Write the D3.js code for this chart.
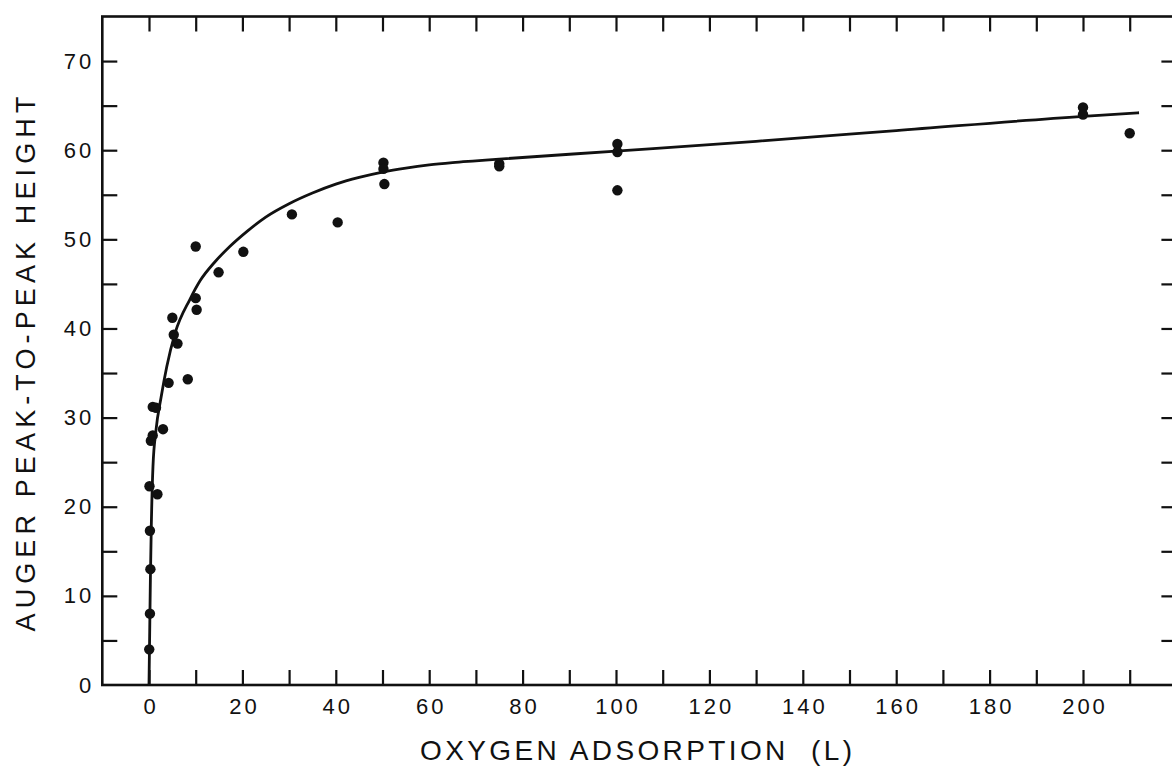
<!DOCTYPE html>
<html><head><meta charset="utf-8">
<script src="https://cdn.jsdelivr.net/npm/d3@7/dist/d3.min.js"></script>
<style>body{margin:0;background:#fff;overflow:hidden}svg{display:block}</style>
</head><body>
<svg id="c" width="1172" height="767"></svg>
<script>
// Measured points: oxygen exposure (L) and Auger peak-to-peak height
const exposure = [0.05, 0.2, 0.3, 0.2, 0.1, 1.8, 0.4, 0.8, 3.0, 0.8, 1.5, 4.2, 8.3, 5.0, 5.3, 6.1,
  10.0, 10.0, 10.2, 14.9, 20.2, 30.6, 40.4, 50.2, 50.2, 50.4, 75.0, 75.0, 100.3, 100.3, 100.3, 200, 200, 210];
const peakHeight = [4.0, 8.0, 13.0, 17.3, 22.3, 21.4, 27.4, 28.0, 28.7, 31.2, 31.1, 33.9, 34.3, 41.2, 39.3, 38.3,
  49.2, 43.4, 42.1, 46.3, 48.6, 52.8, 51.9, 58.6, 57.9, 56.2, 58.5, 58.2, 60.7, 59.8, 55.5, 64.8, 64.0, 61.9];

// Fitted curve
const fitX = [0, 0.15, 0.3, 0.5, 0.85, 1.5, 2.6, 3.8, 5.6, 8.8, 11, 14, 17.3, 21, 25, 30, 35, 40, 45, 50, 55, 60, 65, 70, 75, 100, 130, 160, 200, 212];
const fitY = [0, 6, 12, 18, 24.5, 28.6, 32.3, 35.7, 39.5, 43.3, 45.4, 47.4, 49.2, 50.9, 52.5, 54.0, 55.2, 56.2, 56.95, 57.55, 58.0, 58.35, 58.6, 58.8, 59.0, 59.9, 61.0, 62.2, 63.8, 64.2];

// Axes
const xDomain = [-10, 220];
const yDomain = [0, 75];
const xTickMarks = [0, 10, 20, 30, 40, 50, 60, 70, 80, 90, 100, 110, 120, 130, 140, 150, 160, 170, 180, 190, 200, 210];
const xTickLabels = [0, 20, 40, 60, 80, 100, 120, 140, 160, 180, 200];
const yTickMarks = [5, 10, 15, 20, 25, 30, 35, 40, 45, 50, 55, 60, 65, 70];
const yTickLabels = [0, 10, 20, 30, 40, 50, 60, 70];
const xTitle = "OXYGEN ADSORPTION  (L)";
const yTitle = "AUGER PEAK-TO-PEAK HEIGHT";

const FONT = "'Liberation Sans', Arial, sans-serif";
const svg = d3.select("#c");
const x = d3.scaleLinear().domain(xDomain).range([102.3, 1176.4]);
const y = d3.scaleLinear().domain(yDomain).range([685, 16.5]);

const ink = "#111";
const TL = 15;

// frame
svg.append("rect")
  .attr("x", x(xDomain[0])).attr("y", y(yDomain[1]))
  .attr("width", x(xDomain[1]) - x(xDomain[0]))
  .attr("height", y(yDomain[0]) - y(yDomain[1]))
  .attr("fill", "none").attr("stroke", ink).attr("stroke-width", 2.6);

function styleTicks(g) {
  g.select(".domain").remove();
  g.selectAll(".tick line").attr("stroke", ink).attr("stroke-width", 2.2);
}

// tick marks
svg.append("g").attr("transform", `translate(0,${y(0)})`)
  .call(d3.axisBottom(x).tickValues(xTickMarks).tickSizeInner(-TL).tickSizeOuter(0).tickFormat(() => ""))
  .call(styleTicks);
svg.append("g").attr("transform", `translate(0,${y(yDomain[1])})`)
  .call(d3.axisTop(x).tickValues(xTickMarks).tickSizeInner(-TL).tickSizeOuter(0).tickFormat(() => ""))
  .call(styleTicks);
svg.append("g").attr("transform", `translate(${x(xDomain[0])},0)`)
  .call(d3.axisLeft(y).tickValues(yTickMarks).tickSizeInner(-TL).tickSizeOuter(0).tickFormat(() => ""))
  .call(styleTicks);
svg.append("g").attr("transform", `translate(${x(xDomain[1])},0)`)
  .call(d3.axisRight(y).tickValues(yTickMarks).tickSizeInner(-TL).tickSizeOuter(0).tickFormat(() => ""))
  .call(styleTicks);

// tick labels
const xl = svg.append("g").attr("transform", `translate(0,${y(0)})`)
  .call(d3.axisBottom(x).tickValues(xTickLabels).tickSize(0).tickPadding(13));
xl.select(".domain").remove();
xl.selectAll("text").attr("font-family", FONT).attr("font-size", 22).attr("fill", ink)
  .attr("letter-spacing", 3).attr("dx", 1.5);

const yl = svg.append("g").attr("transform", `translate(${x(xDomain[0])},0)`)
  .call(d3.axisLeft(y).tickValues(yTickLabels).tickSize(0).tickPadding(11));
yl.select(".domain").remove();
yl.selectAll("text").attr("font-family", FONT).attr("font-size", 22).attr("fill", ink)
  .attr("letter-spacing", 3).attr("dx", 3);

// fitted curve
const line = d3.line().x((d, i) => x(fitX[i])).y((d, i) => y(fitY[i])).curve(d3.curveMonotoneX);
svg.append("path").datum(fitX).attr("d", line)
  .attr("fill", "none").attr("stroke", ink).attr("stroke-width", 2.8).attr("stroke-linejoin", "round");

// points
svg.append("g").selectAll("circle").data(exposure).join("circle")
  .attr("cx", (d) => x(d)).attr("cy", (d, i) => y(peakHeight[i])).attr("r", 5.2).attr("fill", ink);

// titles
svg.append("text").attr("x", 636).attr("y", 760).attr("text-anchor", "middle")
  .attr("font-family", FONT).attr("font-size", 28).attr("fill", ink)
  .attr("textLength", 432).attr("lengthAdjust", "spacing").style("white-space", "pre").text(xTitle);

svg.append("text").attr("transform", "translate(35,364) rotate(-90)").attr("text-anchor", "middle")
  .attr("font-family", FONT).attr("font-size", 27).attr("fill", ink)
  .attr("textLength", 535).attr("lengthAdjust", "spacing").text(yTitle);
</script>
</body></html>
